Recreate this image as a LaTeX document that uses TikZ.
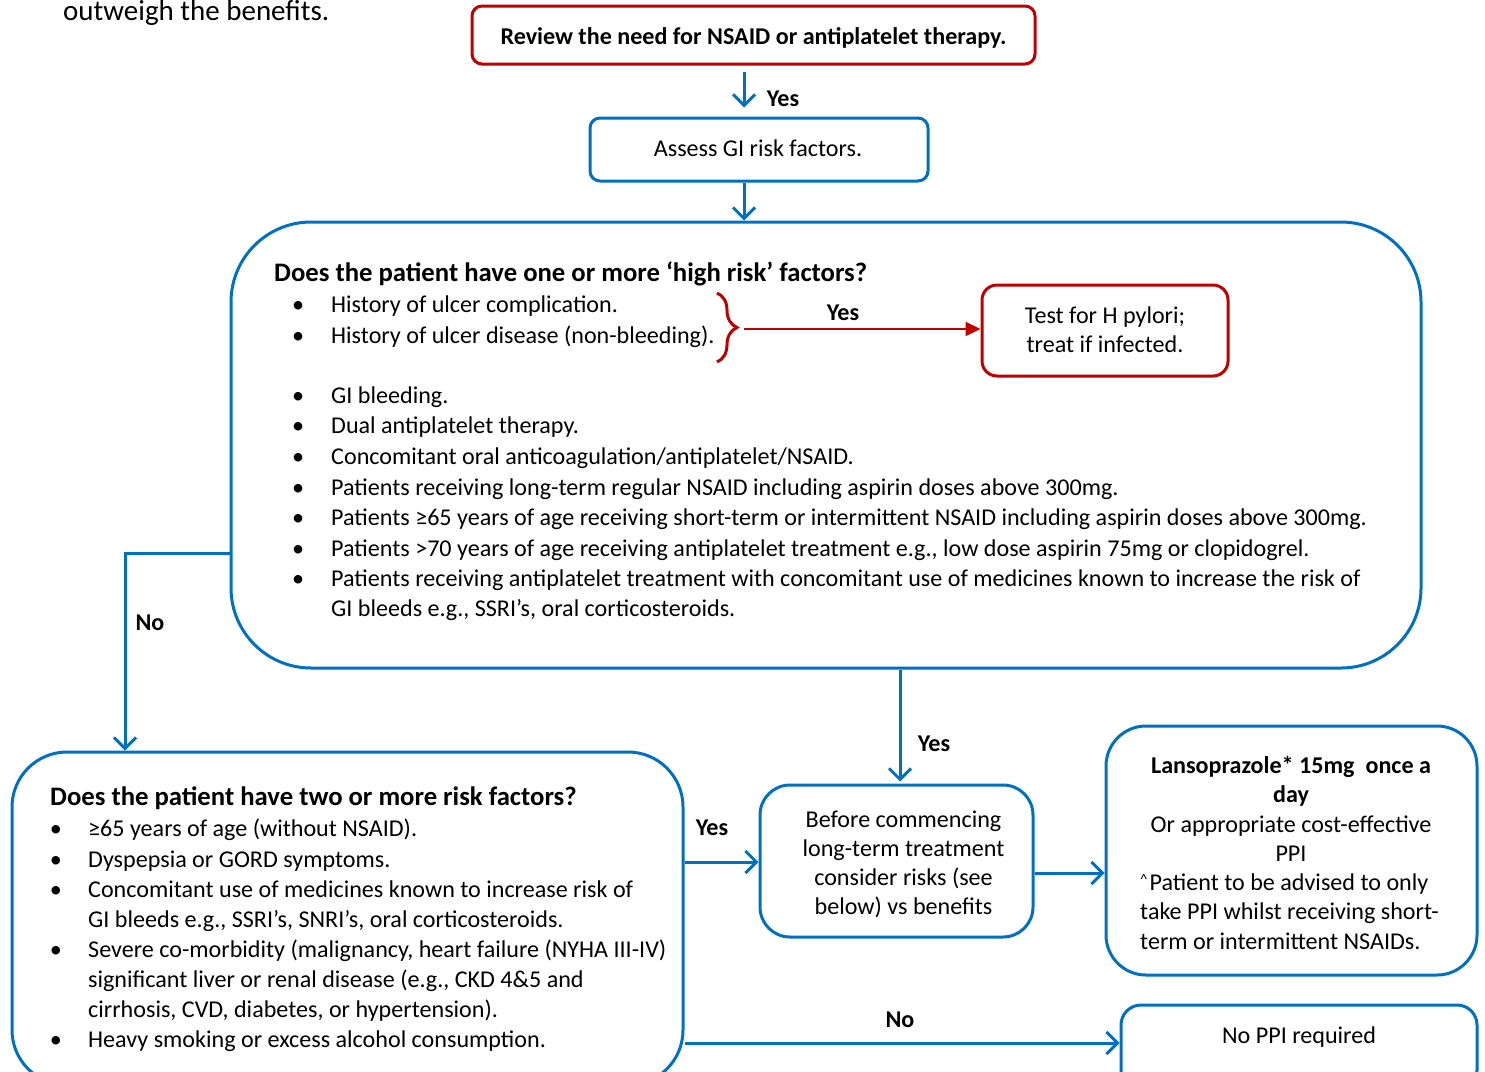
\documentclass[tikz,border=0pt]{standalone}
\usepackage{fontspec}
\setmainfont{Carlito}
\usetikzlibrary{arrows.meta,decorations.pathreplacing,calc}
\definecolor{nblue}{RGB}{0,112,192}
\definecolor{nred}{RGB}{192,0,0}
\newcommand\bodyfs{\fontsize{24.1pt}{29.5pt}\selectfont}
\newcommand\titlefs{\fontsize{26.7pt}{30pt}\selectfont\bfseries}
\begin{document}
\begin{tikzpicture}[x=1pt,y=-1pt,
  bbox/.style={draw=nblue, line width=3pt, rounded corners=#1, inner sep=0pt, align=center, font=\bodyfs},
  bbox/.default=10pt,
  rbox/.style={draw=nred, line width=3pt, rounded corners=#1, inner sep=0pt, align=center, font=\bodyfs},
  rbox/.default=10pt,
  conn/.style={draw=nblue, line width=3pt, -{Straight Barb[length=11pt,width=22pt]}},
  rconn/.style={draw=nred, line width=2pt, -{Triangle[length=15pt,width=14pt]}},
  lbl/.style={font=\bodyfs\bfseries, inner sep=0pt},
  txt/.style={font=\bodyfs, anchor=base west, inner sep=0pt},
  ctxt/.style={font=\bodyfs, anchor=base, inner sep=0pt},
  bul/.style={font=\bodyfs, anchor=base, inner sep=0pt},
  ttl/.style={font=\titlefs, anchor=base west, inner sep=0pt}]
\useasboundingbox (0,0) rectangle (1485,1071);
\clip (0,0) rectangle (1485,1071);

\node[font=\fontsize{29pt}{32pt}\selectfont, anchor=base west, inner sep=0pt] (topline) at (63,20) {outweigh the benefits.};

% top boxes
\node[rbox=10pt, minimum width=563pt, minimum height=58pt] (review) at (753.5,35) {};
\node[ctxt, font=\bodyfs\bfseries] (reviewt) at (753.5,44) {Review the need for NSAID or antiplatelet therapy.};
\node[bbox=10pt, minimum width=338pt, minimum height=63pt] (assess) at (759,149.5) {};
\node[ctxt] (assesst) at (758,156) {Assess GI risk factors.};

% big box
\node[bbox=80pt, minimum width=1190pt, minimum height=446pt] (big) at (826,445) {};
\node[ttl] (t0) at (274,281) {Does the patient have one or more ‘high risk’ factors?};
\node[bul] (b1) at (298,312) {•};
\node[txt] (t1) at (331,312) {History of ulcer complication.};
\node[bul] (b2) at (298,343) {•};
\node[txt] (t2) at (331,343) {History of ulcer disease (non-bleeding).};
\node[bul] (b3) at (298,403) {•};
\node[txt] (t3) at (331,403) {GI bleeding.};
\node[bul] (b4) at (298,433) {•};
\node[txt] (t4) at (331,433) {Dual antiplatelet therapy.};
\node[bul] (b5) at (298,464) {•};
\node[txt] (t5) at (331,464) {Concomitant oral anticoagulation/antiplatelet/NSAID.};
\node[bul] (b6) at (298,495) {•};
\node[txt] (t6) at (331,495) {Patients receiving long-term regular NSAID including aspirin doses above 300mg.};
\node[bul] (b7) at (298,525) {•};
\node[txt] (t7) at (331,525) {Patients ≥65 years of age receiving short-term or intermittent NSAID including aspirin doses above 300mg.};
\node[bul] (b8) at (298,556) {•};
\node[txt] (t8) at (331,556) {Patients >70 years of age receiving antiplatelet treatment e.g., low dose aspirin 75mg or clopidogrel.};
\node[bul] (b9) at (298,586) {•};
\node[txt] (t9) at (331,586) {Patients receiving antiplatelet treatment with concomitant use of medicines known to increase the risk of};
\node[txt] (t10) at (331,616) {GI bleeds e.g., SSRI’s, oral corticosteroids.};

% brace and H pylori
\draw[nred, line width=3pt, decorate, decoration={brace, amplitude=20pt}] (717,293) -- (717,362);
\coordinate (bracetip) at (744,329);
\node[rbox=15pt, minimum width=246pt, minimum height=91pt] (hp) at (1105,330.5) {};
\node[ctxt] (hp1) at (1105,323) {Test for H pylori;};
\node[ctxt] (hp2) at (1105,352) {treat if infected.};
\draw[rconn] (bracetip) -- (hp.west |- bracetip);
\node[lbl] (yes2) at (843,313) {Yes};

% lower boxes
\node[bbox=55pt, minimum width=671pt, minimum height=333pt] (q2) at (347.5,918.5) {};
\node[ttl] (s0) at (50,805) {Does the patient have two or more risk factors?};
\node[bul] (c1) at (56,836) {•};
\node[txt] (s1) at (88,836) {≥65 years of age (without NSAID).};
\node[bul] (c2) at (56,867) {•};
\node[txt] (s2) at (88,867) {Dyspepsia or GORD symptoms.};
\node[bul] (c3) at (56,897) {•};
\node[txt] (s3) at (88,897) {Concomitant use of medicines known to increase risk of};
\node[txt] (s4) at (88,927) {GI bleeds e.g., SSRI’s, SNRI’s, oral corticosteroids.};
\node[bul] (c4) at (56,957) {•};
\node[txt] (s5) at (88,957) {Severe co-morbidity (malignancy, heart failure (NYHA III-IV)};
\node[txt] (s6) at (88,987) {significant liver or renal disease (e.g., CKD 4\&5 and};
\node[txt] (s7) at (88,1017) {cirrhosis, CVD, diabetes, or hypertension).};
\node[bul] (c5) at (56,1047) {•};
\node[txt] (s8) at (88,1047) {Heavy smoking or excess alcohol consumption.};

\node[bbox=30pt, minimum width=273pt, minimum height=152pt] (before) at (896.5,861) {};
\node[ctxt] (bf1) at (903.5,827) {Before commencing};
\node[ctxt] (bf2) at (903.5,856) {long-term treatment};
\node[ctxt] (bf3) at (903.5,885) {consider risks (see};
\node[ctxt] (bf4) at (903.5,914) {below) vs benefits};

\node[bbox=40pt, minimum width=371pt, minimum height=249pt] (lanso) at (1291.5,850.5) {};
\node[ctxt, font=\bodyfs\bfseries] (la1) at (1291,773) {Lansoprazole* 15mg\ \ once a};
\node[ctxt, font=\bodyfs\bfseries] (la2) at (1291,802) {day};
\node[ctxt] (la3) at (1291,832) {Or appropriate cost-effective};
\node[ctxt] (la4) at (1291,861) {PPI};
\node[txt] (lb1) at (1140,890) {\raisebox{6pt}{\fontsize{15pt}{15pt}\selectfont\textasciicircum}\hspace{2pt}Patient to be advised to only};
\node[txt] (lb2) at (1140,919) {take PPI whilst receiving short-};
\node[txt] (lb3) at (1140,949) {term or intermittent NSAIDs.};

\node[bbox=20pt, minimum width=356pt, minimum height=85pt] (noppi) at (1299,1047.5) {};
\node[ctxt] (noppit) at (1299,1043) {No PPI required};

% connectors
\coordinate (ax) at (744,0);
\draw[conn, shorten <=6pt, shorten >=9pt] (review.south -| ax) -- (assess.north -| ax);
\node[lbl] (yes1) at (783,99) {Yes};
\draw[conn] (assess.south -| ax) -- (big.north -| ax);

\coordinate (noX) at (125,553);
\draw[conn] (big.west |- noX) -- (noX) -- (noX |- q2.north);
\node[lbl] (no1) at (150,623) {No};

\coordinate (yx) at (900,0);
\draw[conn, shorten >=2pt] (big.south -| yx) -- (before.north -| yx);
\node[lbl] (yes3) at (934,744) {Yes};

\coordinate (yl) at (0,862);
\draw[conn] (q2.east |- yl) -- (before.west |- yl);
\node[lbl] (yes4) at (712,828) {Yes};

\coordinate (ly) at (0,873);
\draw[conn] (before.east |- ly) -- (lanso.west |- ly);

\coordinate (nl) at (0,1043);
\draw[conn] (q2.east |- nl) -- (noppi.west |- nl);
\node[lbl] (no2) at (900,1020) {No};
\end{tikzpicture}
\end{document}
